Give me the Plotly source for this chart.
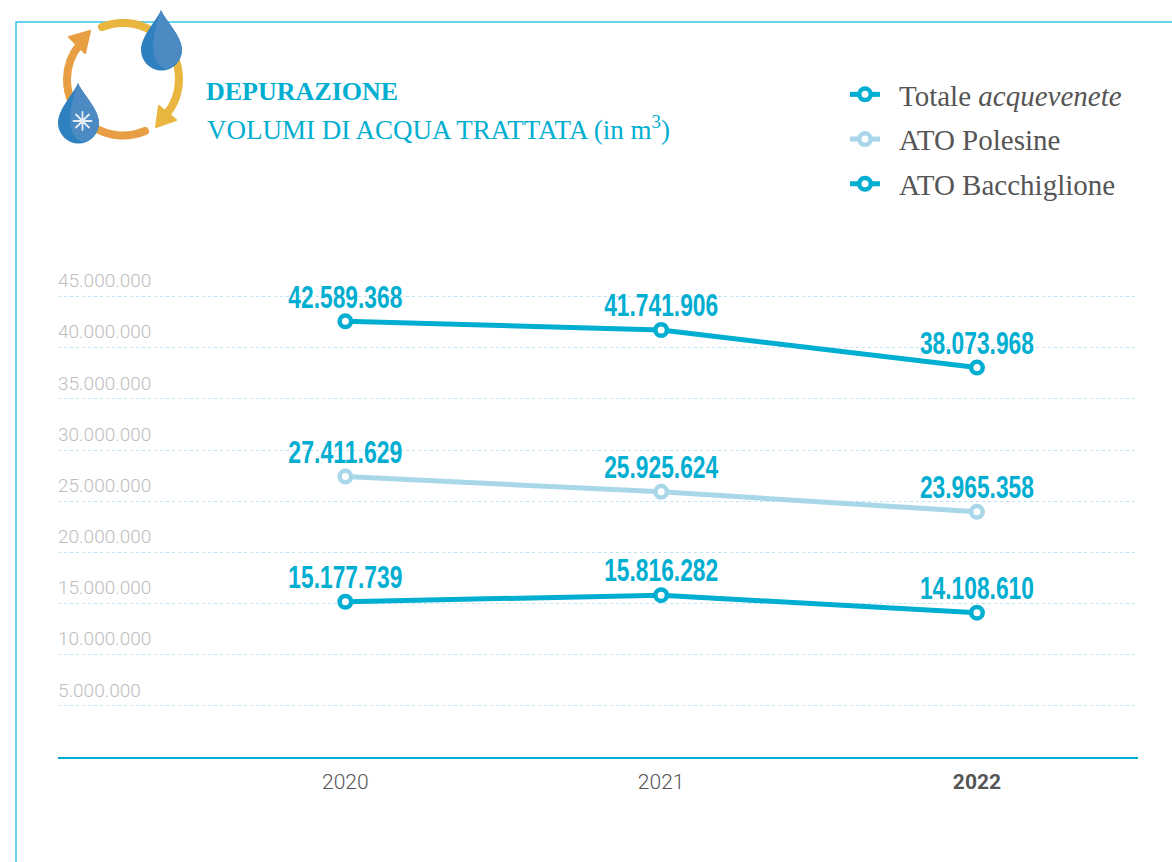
import base64
import plotly.graph_objects as go

years = ["2020", "2021", "2022"]
totale = [42589368, 41741906, 38073968]
polesine = [27411629, 25925624, 23965358]
bacchiglione = [15177739, 15816282, 14108610]
y_ticks = [5000000, 10000000, 15000000, 20000000, 25000000, 30000000, 35000000, 40000000, 45000000]
x_ticktext = ["2020", "2021", "<b>2022</b>"]

TEAL = "#00aed1"
LIGHT = "#a9d7ea"
W, H = 1172, 862
L, R, T, B = 58, 34, 266, 105
PW, PH = W - L - R, H - T - B
px = lambda x: (x - L) / PW
py = lambda y: (H - B - y) / PH
fmt = lambda v: f"{v:,}".replace(",", ".")

fig = go.Figure()
series = [("Totale <i>acquevenete</i>", totale, TEAL),
          ("ATO Polesine", polesine, LIGHT),
          ("ATO Bacchiglione", bacchiglione, TEAL)]
for i, (name, vals, col) in enumerate(series):
    fig.add_trace(go.Scatter(
        x=years, y=vals, name=name, mode="lines+markers", legendgroup=f"g{i}",
        line=dict(color=col, width=5),
        marker=dict(size=11.5, color="white", line=dict(color=col, width=4.5)),
        hoverinfo="skip", cliponaxis=False))
    fig.add_trace(go.Scatter(
        x=years, y=vals, mode="markers+text", showlegend=False, legendgroup=f"g{i}",
        marker=dict(size=8, opacity=0),
        text=[fmt(v) for v in vals], textposition="top center",
        textfont=dict(family="Liberation Sans", size=31, color=TEAL, weight="bold"),
        hoverinfo="skip", cliponaxis=False))

icon = """<svg xmlns='http://www.w3.org/2000/svg' width='140' height='140' viewBox='50 5 140 140'>
<g fill='none' stroke-width='8' stroke-linecap='round'>
<path d='M102 27 A56 56 0 0 1 179 79 A56 56 0 0 1 165 116' stroke='#e9b640'/>
<path d='M145 131 A56 56 0 0 1 67 79 A56 56 0 0 1 80 44' stroke='#e89f43'/>
</g>
<path d='M90 31 L69 37 L85 53 Z' fill='#e89f43' stroke='#e89f43' stroke-width='2' stroke-linejoin='round'/>
<path d='M156 127 L176 120 L159 106 Z' fill='#e9b640' stroke='#e9b640' stroke-width='2' stroke-linejoin='round'/>
<path d='M161 10 C165 20 182 36 182 50 A20.5 20.5 0 0 1 141 50 C141 36 157 20 161 10 Z' fill='#2e80bf'/>
<path d='M161 10 C165 20 182 36 182 50 C182 60 172 69 165 69 C150 62 150 40 161 10 Z' fill='#4b8ac2'/>
<path d='M78 83 C82 93 99 109 99 123 A20.5 20.5 0 0 1 58 123 C58 109 74 93 78 83 Z' fill='#2e80bf'/>
<path d='M78 83 C82 93 99 109 99 123 C99 133 89 142 82 142 C67 135 67 113 78 83 Z' fill='#4b8ac2'/>
<g stroke='#e6eef5' stroke-width='1.8' stroke-linecap='round'>
<path d='M82.5 112 V130 M73.5 121 H91.5 M76 114.5 L89 127.5 M89 114.5 L76 127.5'/>
</g>
</svg>"""
src = "data:image/svg+xml;base64," + base64.b64encode(icon.encode()).decode()

fig.update_layout(
    width=W, height=H, autosize=False,
    margin=dict(l=L, r=R, t=T, b=B, autoexpand=False),
    paper_bgcolor="white", plot_bgcolor="white",
    separators=",.",
    showlegend=True,
    legend=dict(
        x=px(845), y=py(69), xanchor="left", yanchor="top",
        font=dict(family="Liberation Serif", size=29, color="#555555"),
        tracegroupgap=4, bgcolor="rgba(0,0,0,0)", itemclick=False, itemdoubleclick=False,
    ),
    xaxis=dict(
        type="category", categoryorder="array", categoryarray=years,
        range=[-0.91, 2.51], tickvals=years, ticktext=x_ticktext,
        showgrid=False, zeroline=False, showline=True, linecolor=TEAL, linewidth=1.6,
        ticks="", ticklabelstandoff=5,
        tickfont=dict(family="Roboto", size=21, color="#555555", weight=300),
    ),
    yaxis=dict(
        range=[0, 48000000], tickvals=y_ticks, tickformat=",d",
        ticklabelposition="inside", ticklabelshift=-16, ticklabelstandoff=-3, ticks="",
        showline=False, zeroline=False,
        showgrid=True, gridcolor="#bfe3f5", gridwidth=1, griddash="3px,3px",
        tickfont=dict(family="Roboto", size=19, color="#bdbdbd", weight=300),
        automargin=False,
    ),
    shapes=[dict(type="path", xref="paper", yref="paper", layer="below",
                 path=f"M {px(16)} {py(862)} L {px(16)} {py(22)} L {px(1172)} {py(22)}",
                 line=dict(color="#35c3e0", width=1.5))],
    images=[dict(source=src, xref="paper", yref="paper", x=px(50), y=py(5),
                 sizex=140 / PW, sizey=140 / PH, xanchor="left", yanchor="top",
                 sizing="stretch", layer="above")],
    annotations=[
        dict(text="<b>DEPURAZIONE</b>", xref="paper", yref="paper", x=px(204), y=py(92),
             xanchor="left", yanchor="middle", showarrow=False,
             font=dict(family="Liberation Serif", size=26, color=TEAL)),
        dict(text="VOLUMI DI ACQUA TRATTATA (in m<sup>3</sup>)", xref="paper", yref="paper",
             x=px(205), y=py(128), xanchor="left", yanchor="middle", showarrow=False,
             font=dict(family="Liberation Serif", size=27, color=TEAL)),
    ],
)
post = """
document.body.style.margin='0';document.body.style.overflow='hidden';
(function(){
  var gd=document.getElementById('{plot_id}');
  function tweak(){
    gd.querySelectorAll('.textpoint text').forEach(function(t){
      t.setAttribute('textLength','114');t.setAttribute('lengthAdjust','spacingAndGlyphs');
    });
    gd.querySelectorAll('.legendtext').forEach(function(t){ t.setAttribute('x','54'); });
    gd.querySelectorAll('.legend .scrollbox').forEach(function(t){ t.removeAttribute('clip-path'); });
  }
  tweak(); setTimeout(tweak,50); setTimeout(tweak,300);
})();
"""
fig.write_html("out.html", post_script=post, config={"displayModeBar": False})
